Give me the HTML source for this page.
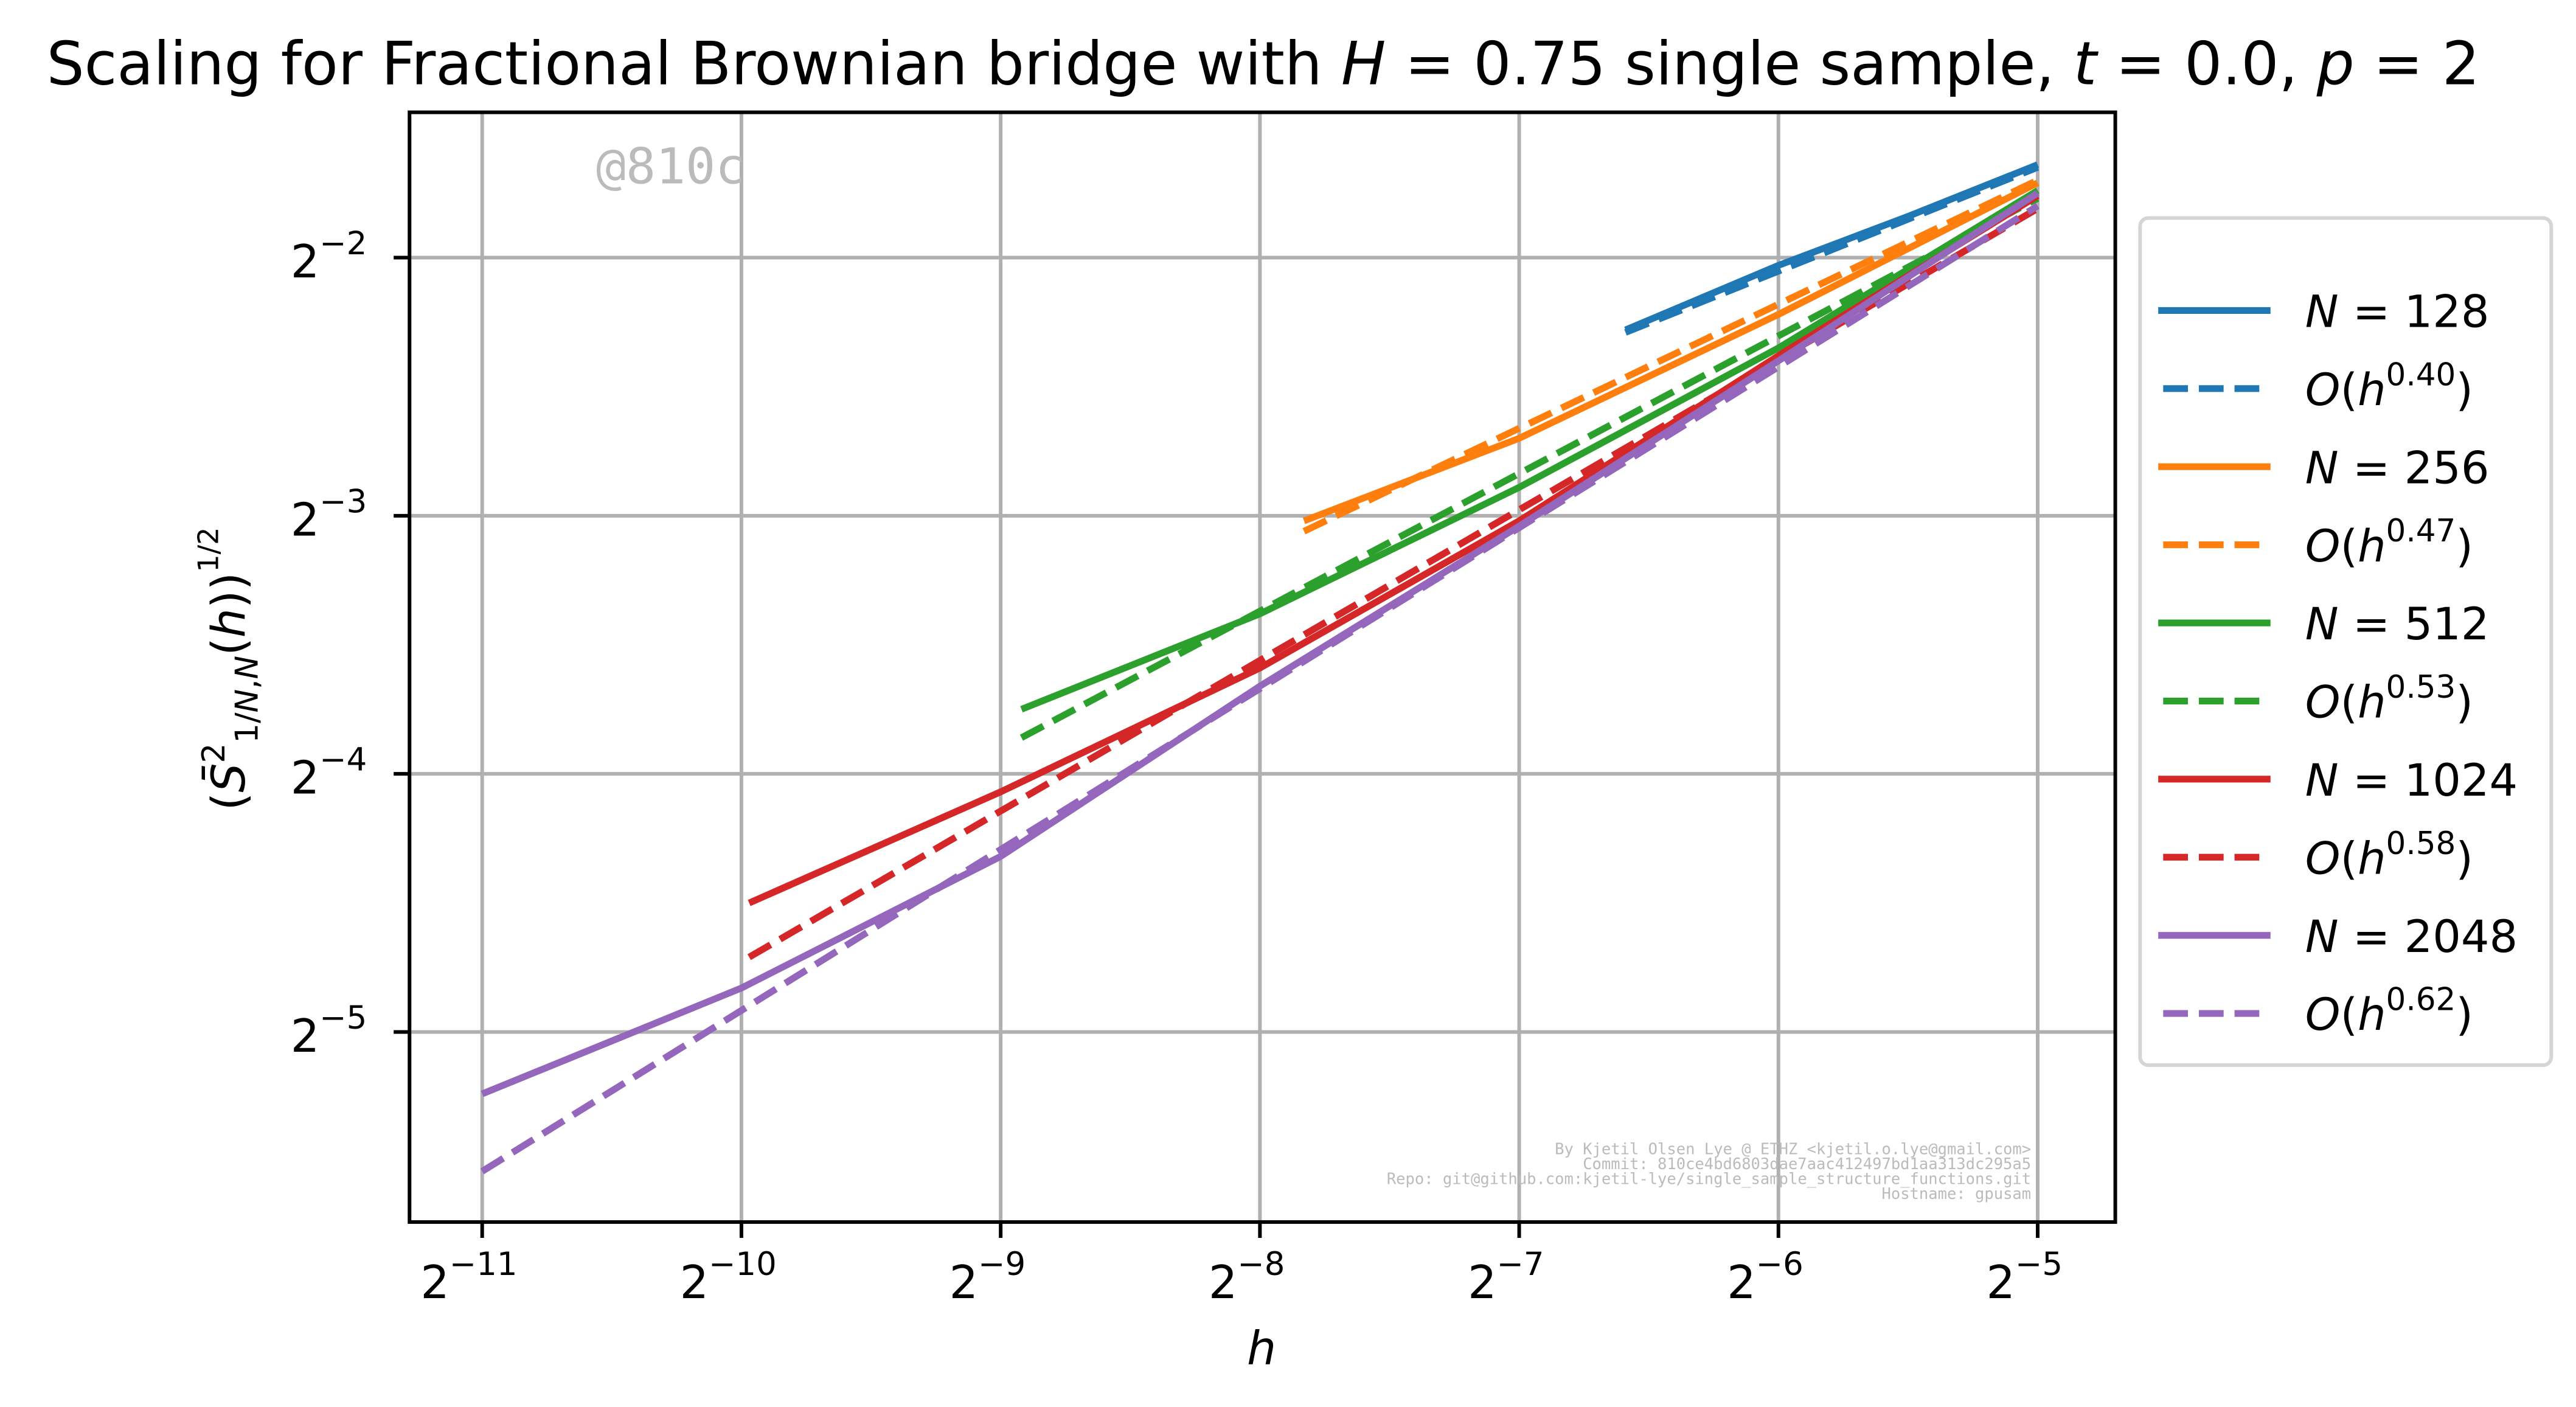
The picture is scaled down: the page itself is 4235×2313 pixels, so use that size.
<!DOCTYPE html>
<html><head><meta charset="utf-8"><style>
html,body{margin:0;padding:0;background:#fff;}
svg{display:block;font-family:"DejaVu Sans","Liberation Sans",sans-serif;}
</style></head><body>
<svg id="chart" width="4235" height="2313" viewBox="0 0 1560 852" xmlns="http://www.w3.org/2000/svg">
<rect width="1560" height="852" fill="#fff"/>
<text x="765" y="51" text-anchor="middle" font-size="36">Scaling for Fractional Brownian bridge with <tspan font-style="italic">H</tspan> = 0.75 single sample, <tspan font-style="italic">t</tspan> = 0.0, <tspan font-style="italic">p</tspan> = 2</text>
<g id="grid"></g>
<text x="361" y="111" font-family="'DejaVu Sans Mono','Liberation Mono',monospace" font-size="30" fill="#bbb">@810c</text>
<g font-family="'DejaVu Sans Mono','Liberation Mono',monospace" font-size="9.4" fill="#bbb" text-anchor="end">
<text x="1230" y="699">By Kjetil Olsen Lye @ ETHZ &lt;kjetil.o.lye@gmail.com&gt;</text>
<text x="1230" y="708">Commit: 810ce4bd6803dae7aac412497bd1aa313dc295a5</text>
<text x="1230" y="717">Repo: git@github.com:kjetil-lye/single_sample_structure_functions.git</text>
<text x="1230" y="726">Hostname: gpusam</text>
</g>
<g id="series"></g>
<rect x="248" y="68" width="1033" height="672" fill="none" stroke="#000" stroke-width="2.2"/>
<g id="ticks"></g>
<text x="764" y="826" text-anchor="middle" font-size="28" font-style="italic">h</text>
<text transform="translate(148,405) rotate(-90)" text-anchor="middle" font-size="28">(<tspan font-style="italic">S̄</tspan><tspan font-size="19" dy="-12">2</tspan><tspan font-size="19" dy="20">1/<tspan font-style="italic">N</tspan>,<tspan font-style="italic">N</tspan></tspan><tspan dy="-8">(<tspan font-style="italic">h</tspan>))</tspan><tspan font-size="17" dy="-16">1/2</tspan></text>
<g id="legend">
<rect x="1296" y="132" width="249" height="513" rx="5" fill="#fff" stroke="#d5d5d5" stroke-width="2.2"/>
</g>
</svg>
<script>
const xExpTicks = [-11, -10, -9, -8, -7, -6, -5];
const yExpTicks = [-2, -3, -4, -5];
const seriesLabels = ["N = 128", "N = 256", "N = 512", "N = 1024", "N = 2048"];
const slopeLabels = ["0.40", "0.47", "0.53", "0.58", "0.62"];
const colors = ["#1f77b4", "#ff7f0e", "#2ca02c", "#d62728", "#9467bd"];
// solid series: log2(h) and log2(value)
const x128 = [-6.59, -6, -5.5, -5];
const y128 = [-2.28, -2.03, -1.84, -1.64];
const x256 = [-7.83, -7, -6, -5];
const y256 = [-3.02, -2.70, -2.22, -1.71];
const x512 = [-8.92, -8, -7, -6, -5];
const y512 = [-3.75, -3.38, -2.89, -2.35, -1.74];
const x1024 = [-9.97, -9, -8, -7, -6, -5];
const y1024 = [-4.50, -4.07, -3.59, -3.02, -2.38, -1.76];
const x2048 = [-11, -10, -9, -8, -7, -6, -5];
const y2048 = [-5.24, -4.83, -4.32, -3.66, -3.04, -2.40, -1.75];
// fitted dashed lines
const xFit128 = [-6.59, -5];   const yFit128 = [-2.29, -1.65];
const xFit256 = [-7.83, -5];   const yFit256 = [-3.06, -1.70];
const xFit512 = [-8.92, -5];   const yFit512 = [-3.86, -1.77];
const xFit1024 = [-9.97, -5];  const yFit1024 = [-4.71, -1.81];
const xFit2048 = [-11, -5];    const yFit2048 = [-5.54, -1.80];

const NS = "http://www.w3.org/2000/svg";
const L = 248, R = 1281, T = 68, B = 740;
function xs(e){ return 292 + (e + 11) * 157; }
function ys(e){ return 156 + (-2 - e) * 156.3; }
function mk(tag, attrs, parent){ const el = document.createElementNS(NS, tag); for (const k in attrs) el.setAttribute(k, attrs[k]); parent.appendChild(el); return el; }

const grid = document.getElementById('grid');
const ticks = document.getElementById('ticks');
xExpTicks.forEach(e => {
  const g = mk('line', {x1: xs(e), x2: xs(e), y1: T, y2: B, stroke: '#b0b0b0', 'stroke-width': 2.2}, grid);
  
  
  const t = mk('line', {x1: xs(e), x2: xs(e), y1: B, y2: B + 9.6, stroke: '#000', 'stroke-width': 2.2}, ticks);
  
  
  const lab = mk('text', {x: xs(e) - 8, y: 786, 'text-anchor': 'middle', 'font-size': 27.5}, ticks);
  
  
  lab.innerHTML = '2<tspan font-size="19.5" dy="-14">\u2212' + (-e) + '</tspan>';
});
yExpTicks.forEach(e => {
  const g = mk('line', {x1: L, x2: R, y1: ys(e), y2: ys(e), stroke: '#b0b0b0', 'stroke-width': 2.2}, grid);
  
  
  const t = mk('line', {x1: L - 9.6, x2: L, y1: ys(e), y2: ys(e), stroke: '#000', 'stroke-width': 2.2}, ticks);
  
  
  const lab = mk('text', {x: 176, y: ys(e) + 12, 'font-size': 27.5}, ticks);
  
  
  lab.innerHTML = '2<tspan font-size="19.5" dy="-14">\u2212' + (-e) + '</tspan>';
});

const solids = [[x128, y128], [x256, y256], [x512, y512], [x1024, y1024], [x2048, y2048]];
const fits = [[xFit128, yFit128], [xFit256, yFit256], [xFit512, yFit512], [xFit1024, yFit1024], [xFit2048, yFit2048]];
const series = document.getElementById('series');
function pts(xa, ya){ return xa.map((x, i) => xs(x).toFixed(1) + ',' + ys(ya[i]).toFixed(1)).join(' '); }
for (let i = 0; i < 5; i++) {
  const s = mk('polyline', {points: pts(solids[i][0], solids[i][1]), fill: 'none', stroke: colors[i], 'stroke-width': 4.1, 'stroke-linejoin': 'round'}, series);
  
  
  const d = mk('polyline', {points: pts(fits[i][0], fits[i][1]), fill: 'none', stroke: colors[i], 'stroke-width': 4.1, 'stroke-dasharray': '15 6.6'}, series);
  
  
}

const legend = document.getElementById('legend');
for (let i = 0; i < 5; i++) {
  const y1 = 188 + i * 94.6, y2 = y1 + 47.3;
  const a = mk('line', {x1: 1307, x2: 1375, y1: y1, y2: y1, stroke: colors[i], 'stroke-width': 4.1}, legend);
  
  
  const ta = mk('text', {x: 1396, y: y1 + 10, 'font-size': 27}, legend);
  
  
  const num = seriesLabels[i].replace('N = ', '');
  ta.innerHTML = '<tspan font-style="italic">N</tspan> = ' + num;
  const b = mk('line', {x1: 1310, x2: 1374, y1: y2, y2: y2, stroke: colors[i], 'stroke-width': 4.1, 'stroke-dasharray': '15 6.6'}, legend);
  
  
  const tb = mk('text', {x: 1396, y: y2 + 10, 'font-size': 27}, legend);
  
  
  tb.innerHTML = '<tspan font-style="italic">\u039F</tspan>(<tspan font-style="italic">h</tspan><tspan font-size="19" dy="-12">' + slopeLabels[i] + '</tspan><tspan dy="12">)</tspan>';
}
</script>
</body></html>
